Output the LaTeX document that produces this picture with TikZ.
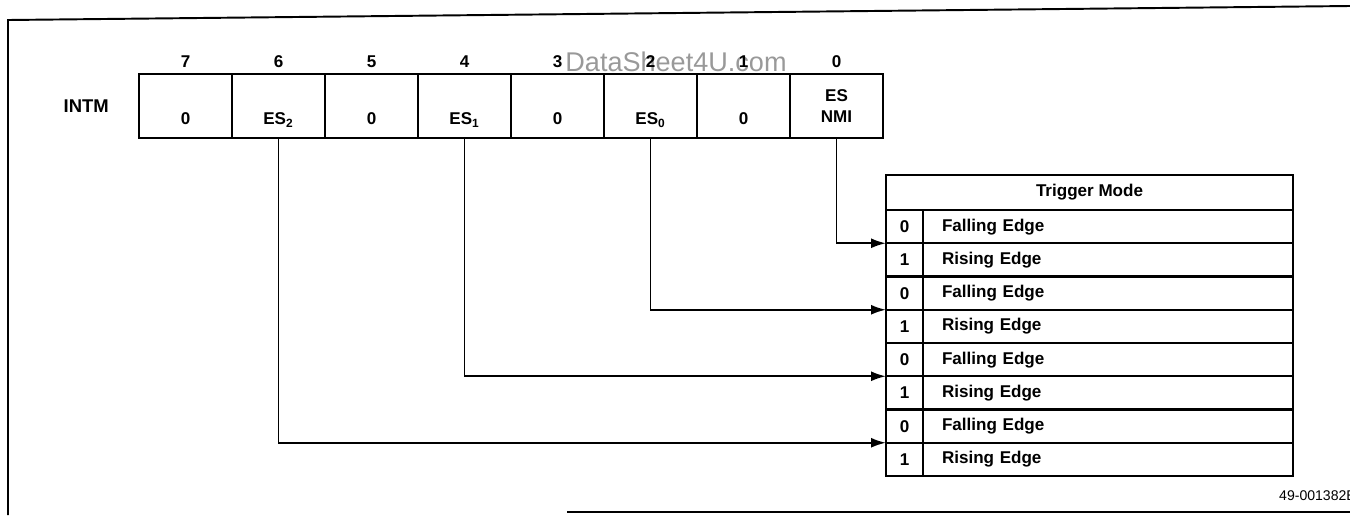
\documentclass[tikz,border=0pt]{standalone}
\usepackage{fontspec}
\setmainfont{Liberation Sans}
\usetikzlibrary{arrows.meta, positioning}

\begin{document}
\begin{tikzpicture}[
  every node/.style={font=\bfseries\fontsize{9.7}{12}\selectfont},
  regcell/.style={rectangle, draw, line width=1.3pt, outer sep=0pt, inner sep=0pt,
                  minimum width=1.86cm, minimum height=1.28cm, align=center},
  lowcell/.style={regcell, text height=21pt, text depth=0pt},
  headcell/.style={rectangle, draw, line width=1.3pt, outer sep=0pt,
                   minimum width=8.14cm, minimum height=0.70cm},
  valcell/.style={rectangle, draw, line width=1.3pt, outer sep=0pt, inner sep=0pt,
                  minimum width=0.74cm, minimum height=0.665cm},
  modecell/.style={rectangle, draw, line width=1.3pt, outer sep=0pt, inner ysep=0pt,
                   inner xsep=0.38cm, text width=6.64cm, minimum height=0.665cm, align=left},
  conn/.style={line width=1.1pt, -{Latex[length=0.3cm, width=0.2cm]}}
]
\useasboundingbox (0,0) rectangle (27,-10.3);

% frame
\draw[line width=1.1pt] (0.16,-10.3) -- (0.16,-0.40) -- (27,-0.12);
\draw[line width=1.1pt] (11.34,-10.24) -- (27,-10.24);

% register
\node[lowcell] (r7) at (3.71,-2.12) {0};
\node[lowcell, right=0pt of r7] (r6) {ES\textsubscript{2}};
\node[lowcell, right=0pt of r6] (r5) {0};
\node[lowcell, right=0pt of r5] (r4) {ES\textsubscript{1}};
\node[lowcell, right=0pt of r4] (r3) {0};
\node[lowcell, right=0pt of r3] (r2) {ES\textsubscript{0}};
\node[lowcell, right=0pt of r2] (r1) {0};
\node[regcell, right=0pt of r1] (r0) {ES\\NMI};
\node[left=0.48cm of r7, font=\bfseries\fontsize{10.5}{12}\selectfont] (intm) {INTM};

\node[font=\fontsize{15.4}{18}\selectfont, text=black!40] (wm) at (13.52,-1.24) {DataSheet4U.com};

\node (n7) at ([yshift=0.24cm]r7.north) {7};
\node (n6) at ([yshift=0.24cm]r6.north) {6};
\node (n5) at ([yshift=0.24cm]r5.north) {5};
\node (n4) at ([yshift=0.24cm]r4.north) {4};
\node (n3) at ([yshift=0.24cm]r3.north) {3};
\node (n2) at ([yshift=0.24cm]r2.north) {2};
\node (n1) at ([yshift=0.24cm]r1.north) {1};
\node (n0) at ([yshift=0.24cm]r0.north) {0};

% trigger mode table
\node[headcell] (trig) at (21.79,-3.85) {Trigger Mode};
\node[valcell, anchor=north west] (v1) at (trig.south west) {0};
\node[valcell, below=0pt of v1] (v2) {1};
\node[valcell, below=0pt of v2] (v3) {0};
\node[valcell, below=0pt of v3] (v4) {1};
\node[valcell, below=0pt of v4] (v5) {0};
\node[valcell, below=0pt of v5] (v6) {1};
\node[valcell, below=0pt of v6] (v7) {0};
\node[valcell, below=0pt of v7] (v8) {1};
\node[modecell, right=0pt of v1] (m1) {Falling Edge};
\node[modecell, right=0pt of v2] (m2) {Rising Edge};
\node[modecell, right=0pt of v3] (m3) {Falling Edge};
\node[modecell, right=0pt of v4] (m4) {Rising Edge};
\node[modecell, right=0pt of v5] (m5) {Falling Edge};
\node[modecell, right=0pt of v6] (m6) {Rising Edge};
\node[modecell, right=0pt of v7] (m7) {Falling Edge};
\node[modecell, right=0pt of v8] (m8) {Rising Edge};

% connectors
\draw[conn] (r0.south) |- (v1.south west);
\draw[conn] (r2.south) |- (v3.south west);
\draw[conn] (r4.south) |- (v5.south west);
\draw[conn] (r6.south) |- (v7.south west);

\node[font=\fontsize{8}{10}\selectfont, anchor=west] (fignum) at (25.46,-9.92) {49-001382E};
\end{tikzpicture}
\end{document}
